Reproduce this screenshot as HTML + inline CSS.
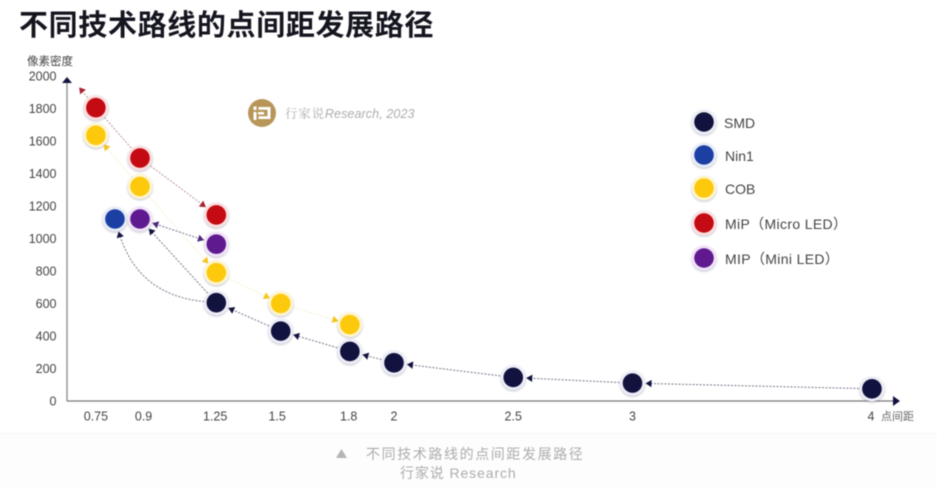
<!DOCTYPE html>
<html lang="zh">
<head>
<meta charset="utf-8">
<title>不同技术路线的点间距发展路径</title>
<style>
html,body{margin:0;padding:0;background:#fff;}
body{width:937px;height:488px;overflow:hidden;position:relative;font-family:"Liberation Sans","Noto Sans CJK SC",sans-serif;}
#chart{position:absolute;left:0;top:0;filter:blur(0.5px);}
text{font-family:"Liberation Sans","Noto Sans CJK SC",sans-serif;}
</style>
</head>
<body>
<svg id="chart" width="937" height="488" viewBox="0 0 937 488" xmlns="http://www.w3.org/2000/svg">
  <defs>
    <filter id="soft" x="-30%" y="-30%" width="160%" height="170%">
      <feDropShadow dx="0" dy="1" stdDeviation="1" flood-color="#8888a0" flood-opacity="0.55"/>
    </filter>
  </defs>
  <rect x="0" y="434" width="937" height="54" fill="#fdfdfd"/>
  <line x1="0" y1="433.5" x2="937" y2="433.5" stroke="#f3f3f3"/>
  <text x="19" y="35" font-size="29" font-weight="700" fill="#15151f" letter-spacing="0.65">不同技术路线的点间距发展路径</text>
  <text x="27" y="65" font-size="11.5" fill="#444">像素密度</text>
  <text x="881" y="420" font-size="11" fill="#666">点间距</text>
  <g>
    <circle cx="262" cy="113" r="14" fill="#b8965a"/>
    <path d="M253.500 106.500h3v3.500h-3zM253.500 112h3v8h-3zM258.500 107h12v12h-12v-2.800h9v-6.400h-9zM258 112h6v2.500h-6z" fill="#fff"/>
    <text x="285" y="118" font-size="12.5" fill="#adadad"><tspan letter-spacing="0.8" style="font-family:'Noto Serif CJK SC','Liberation Serif',serif">行家说</tspan><tspan font-style="italic" letter-spacing="0.1">Research, 2023</tspan></text>
  </g>
  <g id="axes"></g>
  <g id="arrows"></g>
  <g id="points"></g>
  <g id="legend"></g>
  <path d="M336 458l5.500-9 5.500 9z" fill="#b5b5b5"/>
  <text x="366" y="459" font-size="14" fill="#adadad" letter-spacing="1.6">不同技术路线的点间距发展路径</text>
  <text x="400" y="478" font-size="14" fill="#adadad" letter-spacing="0.9">行家说 Research</text>
</svg>
<script>
var yTickValues = [0, 200, 400, 600, 800, 1000, 1200, 1400, 1600, 1800, 2000];
var xTickValues = [0.75, 0.95, 1.25, 1.51, 1.81, 2, 2.5, 3, 4];
var xTickLabels = ['0.75', '0.9', '1.25', '1.5', '1.8', '2', '2.5', '3', '4'];

var smdPitch = [4.004, 3, 2.5, 2, 1.815, 1.525, 1.255];
var smdDensity = [75, 110, 145, 235, 305, 430, 605];
var nin1Pitch = [0.83];
var nin1Density = [1120];
var cobPitch = [0.75, 0.935, 1.255, 1.525, 1.815];
var cobDensity = [1635, 1320, 790, 600, 470];
var microPitch = [0.68, 0.75, 0.935, 1.255];
var microDensity = [1930, 1805, 1495, 1145];
var miniPitch = [0.935, 1.255];
var miniDensity = [1120, 965];

var seriesNames = ['SMD', 'Nin1', 'COB', 'MiP（Micro LED）', 'MIP（Mini LED）'];
var seriesKeys = ['smd', 'nin1', 'cob', 'micro', 'mini'];

var NS = 'http://www.w3.org/2000/svg';
var PLOT = { x0: 67, y0: 401, xEnd: 894, yEnd: 82 };
var COLORS = {
  smd: { core: '#12123f', ring: '#eeeef8', line: '#77778a', head: '#12123f', width: 1 },
  nin1: { core: '#1c3fa3', ring: '#e8edf9', line: '#77778a', head: '#1c3fa3', width: 1 },
  cob: { core: '#fdc90d', ring: '#fff5d0', line: '#f6efca', head: '#f5c518', width: 1 },
  micro: { core: '#c40a12', ring: '#fbdfe0', line: '#bd9799', head: '#a92030', width: 1 },
  mini: { core: '#5f1a90', ring: '#f1e4f8', line: '#7d7290', head: '#4b2a78', width: 1 }
};

function xScale(v) { return 394 + (v - 2) * 238.5; }
function yScale(v) { return PLOT.y0 - v * 0.1625; }

function el(parent, tag, attrs) {
  var n = document.createElementNS(NS, tag);
  for (var k in attrs) { n.setAttribute(k, attrs[k]); }
  parent.appendChild(n);
  return n;
}

function head(parent, x, y, ang, color) {
  var s = 6;
  var pts = [
    [x, y],
    [x - s * Math.cos(ang) + s * 0.62 * Math.sin(ang), y - s * Math.sin(ang) - s * 0.62 * Math.cos(ang)],
    [x - s * Math.cos(ang) - s * 0.62 * Math.sin(ang), y - s * Math.sin(ang) + s * 0.62 * Math.cos(ang)]
  ];
  var p = el(parent, 'polygon', { points: pts.map(function (q) { return q.join(','); }).join(' '), fill: color });
  
  
}

function arrow(parent, fromX, fromY, toX, toY, style, startTrim, endTrim, headAtEnd, headAtStart) {
  var dx = toX - fromX, dy = toY - fromY;
  var len = Math.sqrt(dx * dx + dy * dy);
  var ux = dx / len, uy = dy / len;
  var sx = fromX + ux * startTrim, sy = fromY + uy * startTrim;
  var ex = toX - ux * endTrim, ey = toY - uy * endTrim;
  var l = el(parent, 'line', { x1: sx, y1: sy, x2: ex, y2: ey, stroke: style.line, 'stroke-width': style.width, 'stroke-dasharray': '2 1.5' });
  
  
  var ang = Math.atan2(dy, dx);
  if (headAtEnd) { head(parent, ex, ey, ang, style.head); }
  if (headAtStart) { head(parent, sx, sy, ang + Math.PI, style.head); }
}

function curvedArrow(parent, fromX, fromY, toX, toY, bend, style) {
  var mx = (fromX + toX) / 2, my = (fromY + toY) / 2;
  var cx = mx + (toY - fromY) * bend;
  var cy = my - (toX - fromX) * bend;
  var a0 = Math.atan2(cy - fromY, cx - fromX);
  var a1 = Math.atan2(toY - cy, toX - cx);
  var sx = fromX + Math.cos(a0) * 12, sy = fromY + Math.sin(a0) * 12;
  var ex = toX - Math.cos(a1) * 13, ey = toY - Math.sin(a1) * 13;
  var p = el(parent, 'path', { d: 'M' + sx + ' ' + sy + 'Q' + cx + ' ' + cy + ' ' + ex + ' ' + ey, fill: 'none', stroke: style.line, 'stroke-width': 1, 'stroke-dasharray': '2 1.5' });
  
  
  head(parent, ex, ey, a1, style.head);
}

function dot(parent, x, y, style, name) {
  var g = el(parent, 'g', {});
  
  
  el(g, 'circle', { cx: x, cy: y, r: 12.5, fill: style.ring, filter: 'url(#soft)' });
  el(g, 'circle', { cx: x, cy: y, r: 9.8, fill: style.core });
}

var axes = document.getElementById('axes');
var yAxisLine = el(axes, 'line', { x1: PLOT.x0, y1: PLOT.y0, x2: PLOT.x0, y2: PLOT.yEnd, stroke: '#8a8a8f', 'stroke-width': 1.3 });


var xAxisLine = el(axes, 'line', { x1: PLOT.x0, y1: PLOT.y0, x2: PLOT.xEnd, y2: PLOT.y0, stroke: '#77777c', 'stroke-width': 1.3 });


var yArrow = el(axes, 'polygon', { points: '67,77 62,83 72,83', fill: '#12123f' });


var xArrow = el(axes, 'polygon', { points: '900,401 893,396 893,406', fill: '#12123f' });



yTickValues.forEach(function (v) {
  var t = el(axes, 'text', { x: 56.5, y: yScale(v) + 4.5, 'text-anchor': 'end', 'font-size': 12.5, fill: '#444' });
  
  
  t.textContent = String(v);
});
xTickValues.forEach(function (v, i) {
  var t = el(axes, 'text', { x: xScale(v), y: 420.5, 'text-anchor': 'middle', 'font-size': 12.5, fill: '#444' });
  
  
  t.textContent = xTickLabels[i];
});

var arrows = document.getElementById('arrows');
function sx(pitch, i) { return xScale(pitch[i]); }
function sy(density, i) { return yScale(density[i]); }

/* COB: heads land on the coarser end, first link points back to the top point */
for (var c = 0; c < cobPitch.length - 1; c++) {
  arrow(arrows, sx(cobPitch, c), sy(cobDensity, c), sx(cobPitch, c + 1), sy(cobDensity, c + 1), COLORS.cob, c === 0 ? 12 : 13, 12, c !== 0, c === 0);
}
/* SMD: heads point toward finer pitch */
for (var s = 0; s < smdPitch.length - 1; s++) {
  arrow(arrows, sx(smdPitch, s), sy(smdDensity, s), sx(smdPitch, s + 1), sy(smdDensity, s + 1), COLORS.smd, 13, 13, true, false);
}
/* MiP Micro LED */
arrow(arrows, sx(microPitch, 1), sy(microDensity, 1), sx(microPitch, 0), sy(microDensity, 0), COLORS.micro, 13, 0, true, false);
arrow(arrows, sx(microPitch, 1), sy(microDensity, 1), sx(microPitch, 2), sy(microDensity, 2), COLORS.micro, 13, 13, false, false);
arrow(arrows, sx(microPitch, 2), sy(microDensity, 2), sx(microPitch, 3), sy(microDensity, 3), COLORS.micro, 13, 13, true, false);
/* MIP Mini LED: both ends */
arrow(arrows, sx(miniPitch, 0), sy(miniDensity, 0), sx(miniPitch, 1), sy(miniDensity, 1), COLORS.mini, 13, 13, true, true);
/* SMD 1.25 branches */
var branch = smdPitch.length - 1;
arrow(arrows, sx(smdPitch, branch), sy(smdDensity, branch), sx(miniPitch, 0), sy(miniDensity, 0), COLORS.smd, 13, 13, true, false);
curvedArrow(arrows, sx(smdPitch, branch), sy(smdDensity, branch), sx(nin1Pitch, 0), sy(nin1Density, 0), 0.34, COLORS.smd);

var points = document.getElementById('points');
function plot(pitch, density, style, name, first) {
  for (var i = first; i < pitch.length; i++) {
    dot(points, xScale(pitch[i]), yScale(density[i]), style, name);
  }
}
plot(smdPitch, smdDensity, COLORS.smd, 'smd-point', 0);
plot(nin1Pitch, nin1Density, COLORS.nin1, 'nin1-point', 0);
plot(cobPitch, cobDensity, COLORS.cob, 'cob-point', 0);
plot(microPitch, microDensity, COLORS.micro, 'micro-led-point', 1);
plot(miniPitch, miniDensity, COLORS.mini, 'mini-led-point', 0);

var legend = document.getElementById('legend');
seriesNames.forEach(function (label, i) {
  var cy = 122 + i * 33 + (i > 2 ? (i - 2) * 2 : 0);
  dot(legend, 704, cy, COLORS[seriesKeys[i]], 'legend-marker');
  var t = el(legend, 'text', { x: i === 0 ? 724 : 725, y: cy + 6, 'font-size': 14, 'letter-spacing': i > 2 ? 0.35 : 0, fill: '#444' });
  
  
  t.textContent = label;
});
</script>
</body>
</html>
